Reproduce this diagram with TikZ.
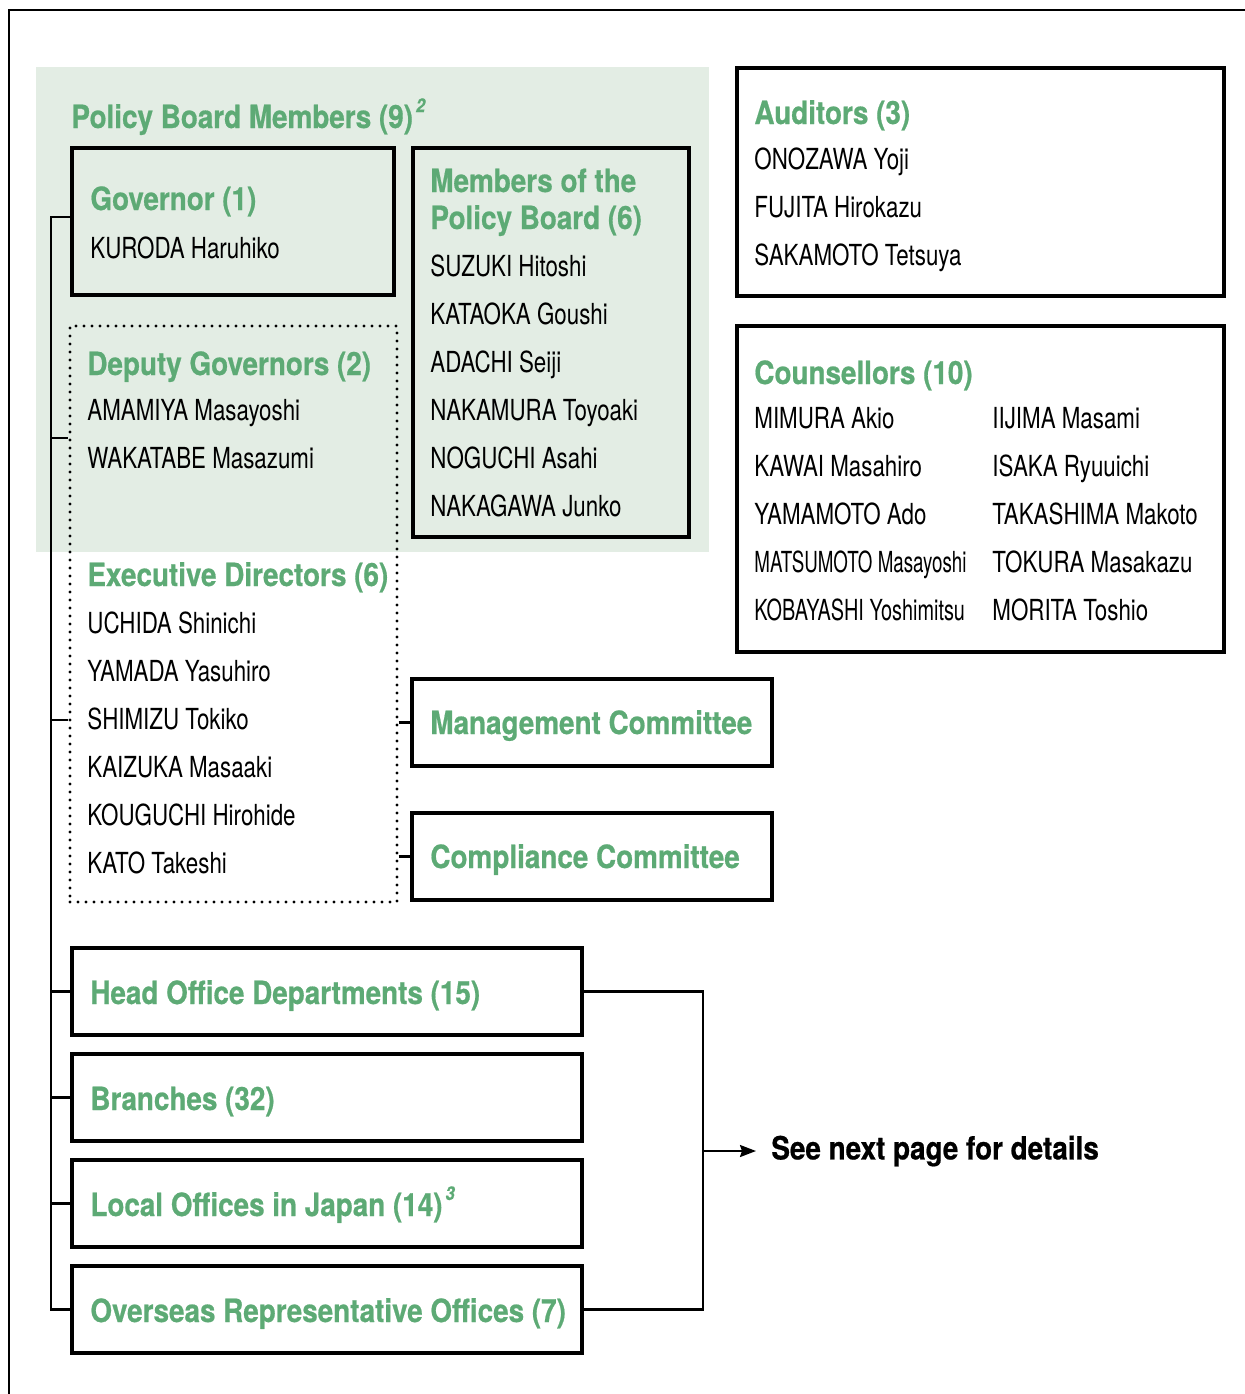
\documentclass[tikz,border=0pt]{standalone}
\usepackage{fontspec}
\usepackage{graphicx}
\setmainfont{TeX Gyre Heros}[FakeStretch=0.77]
\newfontfamily\headfont{TeX Gyre Heros}[FakeStretch=0.87,FakeBold=0.6]
\usetikzlibrary{fit,arrows.meta}
\definecolor{bjgreen}{HTML}{5DAA75}
\definecolor{bjbg}{HTML}{E3EDE4}
\tikzset{
  box/.style={draw=black, line width=2pt, inner sep=0pt},
  dotbox/.style={draw=black, line width=1.6pt, dash pattern=on 0pt off 4pt, line cap=round, inner sep=0pt},
  conn/.style={draw=black, line width=1.4pt},
  grhead/.style={anchor=base west, inner sep=0pt, text=bjgreen, font=\headfont\bfseries\fontsize{16}{19}\selectfont},
  person/.style={anchor=base west, inner sep=0pt, font=\fontsize{14.5}{17}\selectfont},
}
\newcommand{\fnote}[1]{\kern1.5pt\raisebox{0.5em}{\fontsize{9.5}{10}\selectfont\bfseries\itshape #1}}
\begin{document}
\begin{tikzpicture}[x=0.5pt,y=-0.5pt]
\useasboundingbox (0,0) rectangle (1245,1394);
\fill[bjbg] (36,67) rectangle (709,552);
\draw[line width=0.8pt] (9,1394) -- (9,10) -- (1245,10);

% boxes
\node[box, fit={(72,148) (394,295)}] (gov) {};
\node[box, fit={(413,148) (689,537)}] (mem) {};
\node[dotbox, fit={(70,326) (397,902)}] (dots) {};
\node[box, fit={(737,68) (1224,296)}] (aud) {};
\node[box, fit={(737,326) (1224,652)}] (cou) {};
\node[box, fit={(412,679) (772,766)}] (mgmt) {};
\node[box, fit={(412,813) (772,900)}] (comp) {};
\node[box, fit={(72,948) (582,1035)}] (hod) {};
\node[box, fit={(72,1054) (582,1141)}] (br) {};
\node[box, fit={(72,1160) (582,1247)}] (loc) {};
\node[box, fit={(72,1266) (582,1353)}] (ovs) {};

% texts
\node[grhead] (pbm) at (71,128) {Policy Board Members (9)\fnote{2}};
\node[grhead] (govh) at (90,210) {Governor (1)};
\node[person] (gov1) at (90,258) {KURODA Haruhiko};

\node[grhead] (memh1) at (430,192) {Members of the};
\node[grhead] (memh2) at (430,229) {Policy Board (6)};
\node[person] (m1) at (430,276) {SUZUKI Hitoshi};
\node[person] (m2) at (430,324) {KATAOKA Goushi};
\node[person] (m3) at (430,372) {ADACHI Seiji};
\node[person] (m4) at (430,420) {NAKAMURA Toyoaki};
\node[person] (m5) at (430,468) {NOGUCHI Asahi};
\node[person] (m6) at (430,516) {NAKAGAWA Junko};

\node[grhead] (dgh) at (87,375) {Deputy Governors (2)};
\node[person] (dg1) at (87,420) {AMAMIYA Masayoshi};
\node[person] (dg2) at (87,468) {WAKATABE Masazumi};

\node[grhead] (edh) at (87,586) {Executive Directors (6)};
\node[person] (ed1) at (87,633) {UCHIDA Shinichi};
\node[person] (ed2) at (87,681) {YAMADA Yasuhiro};
\node[person] (ed3) at (87,729) {SHIMIZU Tokiko};
\node[person] (ed4) at (87,777) {KAIZUKA Masaaki};
\node[person] (ed5) at (87,825) {KOUGUCHI Hirohide};
\node[person] (ed6) at (87,873) {KATO Takeshi};

\node[grhead] (audh) at (754,124) {Auditors (3)};
\node[person] (a1) at (754,169) {ONOZAWA Yoji};
\node[person] (a2) at (754,217) {FUJITA Hirokazu};
\node[person] (a3) at (754,265) {SAKAMOTO Tetsuya};

\node[grhead] (couh) at (754,384) {Counsellors (10)};
\node[person] (c1) at (754,428) {MIMURA Akio};
\node[person] (c2) at (754,476) {KAWAI Masahiro};
\node[person] (c3) at (754,524) {YAMAMOTO Ado};
\node[person] (c4) at (754,572) {\scalebox{0.84}[1]{MATSUMOTO Masayoshi}};
\node[person] (c5) at (754,620) {\scalebox{0.89}[1]{KOBAYASHI Yoshimitsu}};
\node[person] (c6) at (992,428) {IIJIMA Masami};
\node[person] (c7) at (992,476) {ISAKA Ryuuichi};
\node[person] (c8) at (992,524) {TAKASHIMA Makoto};
\node[person] (c9) at (992,572) {TOKURA Masakazu};
\node[person] (c10) at (992,620) {MORITA Toshio};

\node[grhead] (mgmth) at (430,734) {Management Committee};
\node[grhead] (comph) at (430,868) {Compliance Committee};
\node[grhead] (hodh) at (90,1004) {Head Office Departments (15)};
\node[grhead] (brh) at (90,1110) {Branches (32)};
\node[grhead] (loch) at (90,1216) {Local Offices in Japan (14)\fnote{3}};
\node[grhead] (ovsh) at (90,1322) {Overseas Representative Offices (7)};

\node[anchor=west, inner sep=0pt, font=\headfont\bfseries\fontsize{16}{19}\selectfont] (see) at (771,1151) {See next page for details};

% connectors
\coordinate (trunk) at (51,217);
\coordinate (t1) at (51,438);
\coordinate (t2) at (51,720);
\draw[conn] (gov.west |- trunk) -- (trunk) -- (trunk |- ovs.west) -- (ovs.west);
\draw[conn] (t1) -- (dots.west |- t1);
\draw[conn] (t2) -- (dots.west |- t2);
\draw[conn] (trunk |- hod.west) -- (hod.west);
\draw[conn] (trunk |- br.west) -- (br.west);
\draw[conn] (trunk |- loc.west) -- (loc.west);
\draw[conn] (dots.east |- mgmt.west) -- (mgmt.west);
\draw[conn] (dots.east |- comp.west) -- (comp.west);
\coordinate (bk) at (703,1151);
\draw[conn] (hod.east) -- (bk |- hod.east) -- (bk |- ovs.east) -- (ovs.east);
\draw[line width=1pt, -{Stealth[length=8pt,width=6pt,inset=1pt]}, shorten >=7.5pt] (bk) -- (see.west);
\end{tikzpicture}
\end{document}
